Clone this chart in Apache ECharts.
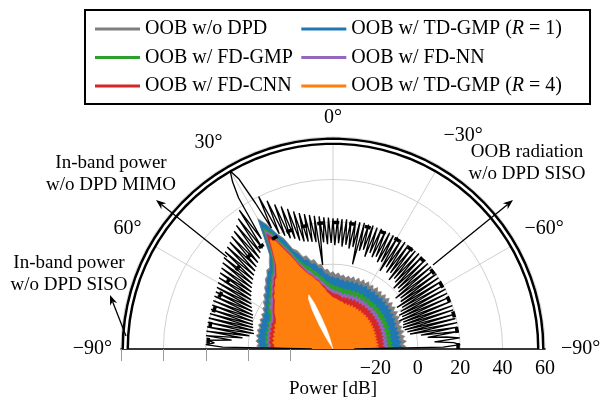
<!DOCTYPE html>
<html><head><meta charset="utf-8">
<script src="https://cdn.jsdelivr.net/npm/echarts@6/dist/echarts.min.js"></script>
<style>html,body{margin:0;padding:0;background:#fff}#c{width:606px;height:401px}</style>
</head><body><div id="c"></div>
<script>
// ---------- angles (degrees, 0 = broadside/top, positive to the left) ----------
const angleDeg = [-90,-89,-88,-87,-86,-85,-84,-83,-82,-81,-80,-79,-78,-77,-76,-75,-74,-73,-72,-71,
-70,-69,-68,-67,-66,-65,-64,-63,-62,-61,-60,-59,-58,-57,-56,-55,-54,-53,-52,-51,
-50,-49,-48,-47,-46,-45,-44,-43,-42,-41,-40,-39,-38,-37,-36,-35,-34,-33,-32,-31,
-30,-29,-28,-27,-26,-25,-24,-23,-22,-21,-20,-19,-18,-17,-16,-15,-14,-13,-12,-11,
-10,-9,-8,-7,-6,-5,-4,-3,-2,-1,0,1,2,3,4,5,6,7,8,9,
10,11,12,13,14,15,16,17,18,19,20,21,22,23,24,25,26,27,28,29,
30,31,32,33,34,35,36,37,38,39,40,41,42,43,44,45,46,47,48,49,
50,51,52,53,54,55,56,57,58,59,60,61,62,63,64,65,66,67,68,69,
70,71,72,73,74,75,76,77,78,79,80,81,82,83,84,85,86,87,88,89,90];
const angleStep2 = angleDeg.filter(a => a % 2 === 0);
const angleStep4 = angleDeg.filter(a => (a + 90) % 4 === 0);

// radial axis ticks (dB)
const radiusTicks = [-40, -20, 0, 20, 40, 60];
const radiusTickMarks = [-20, 0, 20, 40, 60];
const angleTicks = [-90, -60, -30, 0, 30, 60, 90];

// ---------- series values (dB) ----------
// OOB envelopes, sampled every 2 degrees from -90 to 90
const oobNoDpd = [-9,-5.5,-7.2,-5.2,-7.0,-5.6,-7.4,-5.4,-7.1,-5.8,-7.3,-5.3,-6.9,-5.1,-6.8,-4.9,-6.6,-4.6,-6.2,-4.5,
-6.4,-4.3,-6.1,-4.4,-6.3,-4.6,-6.0,-4.2,-6.2,-4.5,-5.9,-4.1,-5.8,-4.3,-6.0,-4.4,-6.1,-4.6,-5.9,-4.8,
-6.0,-4.7,-5.5,-4.0,-5.0,
-3.5,-4.2,-2.2,-2.6,0.4,0.2,3.2,2.8,5.8,5.6,9.4,11.0,17.2,20.5,26.5,31.0,20.5,13.5,11.2,8.6,
8.6,6.4,6.0,3.9,3.5,1.4,1.6,-0.4,-0.3,-2.0,-1.7,-3.4,-2.5,-3.9,-2.8,-4.1,-3.0,-4.3,-3.1,-4.4,
-3.2,-4.5,-3.4,-4.8,-4.0,-9];
const oobTdGmp1 = [-10,-7.5,-9.0,-7.6,-9.2,-8.0,-9.4,-7.8,-9.3,-8.1,-9.5,-7.9,-9.0,-7.5,-8.9,-7.2,-8.7,-6.9,-8.4,-6.8,
-8.5,-6.7,-8.2,-6.6,-8.3,-6.8,-8.1,-6.5,-8.2,-6.7,-8.0,-6.4,-7.9,-6.6,-8.1,-6.7,-8.2,-6.9,-8.0,-7.0,
-8.1,-6.9,-7.6,-6.2,-7.0,
-5.8,-6.2,-4.6,-4.5,-1.8,-1.6,1.2,1.0,3.8,3.9,7.6,9.6,15.8,19.6,25.5,30.2,19.8,12.6,10.2,7.8,
7.6,5.6,5.0,3.0,2.6,0.5,0.7,-1.3,-1.2,-2.9,-2.6,-4.2,-3.4,-4.7,-3.7,-5.0,-3.9,-5.2,-4.0,-5.3,
-4.1,-5.4,-4.3,-5.6,-5.0,-10];
const oobFdGmp = [-14,-11.5,-13.0,-11.8,-13.2,-12.0,-13.1,-11.7,-12.9,-11.6,-12.8,-11.4,-12.6,-11.3,-12.5,-11.1,-12.3,-11.0,-12.2,-10.9,
-12.1,-10.8,-12.0,-10.7,-11.9,-10.8,-11.8,-10.6,-11.9,-10.7,-11.8,-10.6,-11.7,-10.5,-11.8,-10.6,-11.9,-10.7,-11.8,-10.8,
-11.9,-10.8,-11.2,-10.2,-10.6,
-9.8,-9.6,-8.4,-7.8,-5.8,-5.0,-2.6,-2.0,0.4,1.2,3.8,6.6,11.8,16.2,22.0,26.0,16.5,10.8,8.2,6.0,
5.4,3.5,2.8,0.9,0.4,-1.4,-1.3,-3.1,-3.0,-4.6,-4.4,-6.4,-6.0,-7.2,-6.6,-7.8,-7.0,-8.1,-7.2,-8.3,
-7.4,-8.5,-7.6,-8.8,-8.5,-13];
const oobFdNn = [-16,-13.8,-15.0,-13.9,-15.1,-14.0,-15.0,-13.8,-14.9,-13.7,-14.8,-13.6,-14.7,-13.5,-14.6,-13.4,-14.5,-13.3,-14.4,-13.2,
-14.3,-13.1,-14.2,-13.0,-14.1,-13.1,-14.0,-12.9,-14.1,-13.0,-14.0,-12.9,-13.9,-12.8,-14.0,-12.9,-14.1,-13.0,-14.0,-13.1,
-14.1,-13.0,-13.4,-12.4,-12.8,
-12.0,-11.8,-10.6,-10.0,-8.2,-7.4,-5.0,-4.4,-2.0,-1.0,1.6,4.6,10.0,14.6,20.5,24.5,15.2,9.8,7.2,5.0,
4.4,2.5,1.8,-0.1,-0.6,-2.4,-2.3,-4.1,-4.0,-5.6,-5.4,-7.4,-7.0,-8.2,-7.6,-8.8,-8.0,-9.1,-8.2,-9.3,
-8.4,-9.5,-8.6,-9.8,-9.5,-15];
const oobFdCnn = [-18,-15.6,-16.8,-15.7,-16.9,-15.8,-16.8,-15.6,-16.7,-15.5,-16.6,-15.4,-16.5,-15.3,-16.4,-15.2,-16.3,-15.1,-16.2,-15.0,
-16.1,-14.9,-16.0,-14.8,-15.9,-14.9,-15.8,-14.7,-15.9,-14.8,-15.8,-14.7,-15.7,-14.6,-15.8,-14.7,-15.9,-14.8,-15.8,-14.9,
-15.9,-14.8,-15.2,-14.2,-14.6,
-13.8,-13.6,-12.4,-11.8,-10.0,-9.2,-6.8,-6.2,-3.8,-2.8,-0.2,2.8,8.2,12.8,19.0,22.5,14.0,8.8,6.2,4.0,
3.4,1.5,0.8,-1.1,-1.6,-3.4,-3.3,-5.1,-5.0,-6.6,-6.4,-8.4,-8.0,-9.2,-8.6,-9.8,-9.0,-10.1,-9.2,-10.3,
-9.4,-10.5,-9.6,-10.8,-10.5,-17];
const oobTdGmp4 = [-20,-18.2,-19.6,-18.4,-19.8,-18.6,-19.9,-18.7,-19.8,-18.5,-19.7,-18.4,-19.6,-18.3,-19.5,-18.2,-19.3,-18.0,-19.1,-17.9,
-19.0,-17.8,-18.9,-17.7,-18.8,-17.8,-18.7,-17.6,-18.8,-17.7,-18.7,-17.6,-18.6,-17.5,-18.6,-17.6,-18.6,-17.6,-18.4,-17.5,
-18.2,-17.2,-17.4,-16.4,-16.6,
-15.8,-15.4,-14.0,-13.2,-11.2,-10.0,-7.6,-6.6,-4.4,-3.2,-1.0,1.8,7.0,11.5,17.5,19.5,12.8,7.8,5.2,3.0,
2.4,0.5,-0.2,-2.1,-2.6,-4.4,-4.3,-6.1,-6.0,-7.6,-7.5,-9.6,-9.2,-10.6,-10.0,-11.4,-10.6,-11.8,-10.9,-12.0,
-11.0,-12.2,-11.2,-12.5,-12.2,-19];
// inner null envelope of the TD-GMP (R=4) pattern near the beam (white gap)
const gapAngles = [14,16,18,20,22,24,26,28,30,32,34];
const gapValues = [-40,-34,-30,-24,-17,-12,-13.5,-19,-27,-34,-40];

// In-band power w/o DPD MIMO, every 1 degree from -90 to 90
const inbandMimo = [-30,12,20,17,8,20,14,5,20,2,19.5,-3,19.8,-4,19.5,-5,19.8,-5.5,19.6,-5,
19.9,-4.5,19.7,-6,20,-4,19.8,-5,20.1,-3.5,19.9,-2,20.2,-4,20,-1,20.3,0,20.1,-2,
20.4,1,20.2,2,20.5,0.5,20.3,3,20.6,4,20.4,2,20.7,5,20.5,4,20.8,6,20.6,3,
20.9,7,20.7,6,21,8,20.8,7,21.1,8.5,20.9,6,21.2,9,21,8,21.3,1,21.1,9,
21.4,8,21.2,9.5,21.5,8.5,21.4,10,21.7,9,21.6,10,22,9.5,22.3,10.5,22.9,0,23.4,11,
24.2,11.5,25,12,26,12.5,27.5,13.5,29.5,15,31.5,16,33.5,18,36.5,20,40,24,38,52,
57,52,44,22,39,18,36,17,34,15,32.5,14,31.5,13,30,12,29.3,11,28.5,10,
27.2,9,26,8,25,7,24.2,6,23.4,5,22.6,4,22,3,21.5,2,21.2,1,20.9,0.5,
20.6,0,20.5,-0.5,20.4,-1,20.4,-1.5,20.4,-2,20.3,0,20.3,3,20.2,8,19.5,16,20,12,-30];

// SISO references, every 4 degrees from -90 to 90
const inbandSiso = [58,58,58,58,58,58,58,58,58,58,58,58,58,58,58,58,58,58,58,58,58,58,58,
58,58,58,58,58,58,58,58,58,58,58,58,58,58,58,58,58,58,58,58,58,58,58];
const oobSiso = [19.0,19.1,19.1,19.2,19.2,19.3,19.3,19.4,19.4,19.5,19.5,19.6,19.6,19.7,19.7,19.8,19.8,19.8,19.8,19.8,19.8,19.7,19.7,
19.6,19.6,19.5,19.5,19.4,19.4,19.3,19.3,19.2,19.2,19.1,19.1,19.0,19.0,19.0,19.0,19.0,19.0,19.0,19.0,19.0,19.0,19.0];

// ---------- chart ----------
const FONT = '"Liberation Serif","Times New Roman",serif';
const MINUS = '\u2212';
const names = {
  gray: 'OOB w/o DPD', green: 'OOB w/ FD-GMP', red: 'OOB w/ FD-CNN',
  blue: 'OOB w/ TD-GMP (R = 1)', purple: 'OOB w/ FD-NN', orange: 'OOB w/ TD-GMP (R = 4)'
};
const colors = { gray:'#7f7f7f', green:'#2ca02c', red:'#d62728', blue:'#1f77b4', purple:'#9467bd', orange:'#ff7f0e' };

function zip(vals, angs) { return vals.map((v, i) => [v, angs[i]]); }
function fill(name, vals, color, z) {
  return { name, type:'line', coordinateSystem:'polar', polarIndex:0, data: zip(vals, angleStep2),
    symbol:'none', silent:true, z,
    lineStyle:{ color, width:0.7 }, itemStyle:{ color },
    areaStyle:{ color, opacity:1, origin:'start' } };
}
function arrow(x1, y1, x2, y2) {
  const dx = x2 - x1, dy = y2 - y1, L = Math.hypot(dx, dy), ux = dx / L, uy = dy / L;
  const hl = 10, hw = 3.8, bx = x2 - ux * hl, by = y2 - uy * hl;
  return [
    { type:'line', z:100, shape:{ x1, y1, x2: bx + ux * 3, y2: by + uy * 3 }, style:{ stroke:'#000', lineWidth:1.3 } },
    { type:'polygon', z:100, shape:{ points:[[x2, y2], [bx - uy * hw, by + ux * hw], [bx + ux * 3, by + uy * 3], [bx + uy * hw, by - ux * hw]] }, style:{ fill:'#000' } }
  ];
}
function note(x, y, text) {
  return { type:'text', z:100, x, y, style:{ text, font:'19px ' + FONT, fill:'#000', align:'center', verticalAlign:'middle', lineHeight:22 } };
}
function angleLabel(v) {
  const t = (v === 90 || v === -90 ? MINUS + '90' : (v < 0 ? MINUS + (-v) : '' + v)) + '\u00B0';
  if (v === -30) return '{m30|' + t + '}';
  if (v === 30) return '{p30|' + t + '}';
  if (v === -90) return '{m90|' + t + '}';
  return t;
}
const lblRich = {
  m30:{ fontFamily:FONT, fontSize:20, color:'#000', padding:[0, 0, 12, 0] },
  p30:{ fontFamily:FONT, fontSize:20, color:'#000', padding:[0, 0, 5, 0] },
  m90:{ fontFamily:FONT, fontSize:20, color:'#000', padding:[0, 0, 0, 7] }
};

const chart = echarts.init(document.getElementById('c'), null, { renderer:'canvas' });
chart.setOption({
  animation:false,
  backgroundColor:'#fff',
  polar:[ { center:[333, 349], radius:212 }, { center:[333, 349], radius:212 } ],
  angleAxis:[
    { polarIndex:0, type:'value', min:angleTicks[0], max:angleTicks[angleTicks.length - 1], interval:30,
      startAngle:0, endAngle:180, clockwise:false,
      axisLine:{ show:false }, axisTick:{ show:false },
      axisLabel:{ margin:9, fontFamily:FONT, fontSize:20, color:'#000', formatter: angleLabel, rich: lblRich },
      splitLine:{ show:true, lineStyle:{ color:'#c4c4c4', width:0.8 } } },
    { polarIndex:1, type:'value', min:-90, max:90, startAngle:180, endAngle:360, clockwise:false, show:false,
      axisLine:{show:false}, axisLabel:{show:false}, splitLine:{show:false}, axisTick:{show:false} }
  ],
  radiusAxis:[
    { polarIndex:0, type:'value', min:radiusTicks[0], max:radiusTicks[radiusTicks.length - 1], interval:20,
      axisLine:{ show:true, lineStyle:{ color:'#000', width:1.6 } }, axisTick:{ show:false },
      axisLabel:{ margin:-30, fontFamily:FONT, fontSize:20, color:'#000',
        formatter: v => v === -40 ? '' : (v < 0 ? MINUS + (-v) : '' + v) },
      splitLine:{ show:true, lineStyle:{ color:'#c4c4c4', width:0.8 } } },
    { polarIndex:1, type:'value', min:radiusTicks[0], max:radiusTicks[radiusTicks.length - 1], interval:20,
      axisLine:{ show:true, lineStyle:{ color:'#000', width:1.6 } },
      axisTick:{ show:true, length:12, customValues: radiusTickMarks, lineStyle:{ color:'#9a9a9a', width:1 } },
      axisLabel:{ show:false }, splitLine:{ show:false } }
  ],
  legend:{
    orient:'vertical', left:85, top:10, height:96,
    padding:[9, 28, 8, 10], itemGap:8.5, itemWidth:45, itemHeight:3, icon:'rect',
    borderColor:'#000', borderWidth:2,
    data:[names.gray, names.green, names.red, names.blue, names.purple, names.orange],
    formatter: n => n.replace('(R', '({i|R}'),
    textStyle:{ fontFamily:FONT, fontSize:20, color:'#000', lineHeight:20,
      rich:{ i:{ fontFamily:FONT, fontSize:20, fontStyle:'italic', color:'#000', lineHeight:20 } } }
  },
  series:[
    fill(names.gray, oobNoDpd, colors.gray, 2),
    fill(names.blue, oobTdGmp1, colors.blue, 2),
    fill(names.green, oobFdGmp, colors.green, 2),
    fill(names.purple, oobFdNn, colors.purple, 2),
    fill(names.red, oobFdCnn, colors.red, 2),
    fill(names.orange, oobTdGmp4, colors.orange, 2),
    { name:'gap', type:'line', coordinateSystem:'polar', polarIndex:0, data: zip(gapValues, gapAngles),
      symbol:'none', silent:true, z:2, lineStyle:{ color:'#fff', width:0.5 }, areaStyle:{ color:'#fff', opacity:1, origin:'start' } },
    { name:'In-band MIMO', type:'line', coordinateSystem:'polar', polarIndex:0, data: zip(inbandMimo, angleDeg),
      symbol:'none', silent:true, z:3, lineStyle:{ color:'#000', width:1.35 } },
    { name:'OOB SISO', type:'line', coordinateSystem:'polar', polarIndex:0, data: zip(oobSiso, angleStep4),
      symbol:'none', silent:true, z:4, lineStyle:{ color:'#000', width:3.5, type:[6, 10] } },
    { name:'In-band SISO', type:'line', coordinateSystem:'polar', polarIndex:0, data: zip(inbandSiso, angleStep4),
      symbol:'none', silent:true, z:4, lineStyle:{ color:'#000', width:7.5 } },
    { name:'In-band SISO inner', type:'line', coordinateSystem:'polar', polarIndex:0, data: zip(inbandSiso, angleStep4),
      symbol:'none', silent:true, z:5, lineStyle:{ color:'#fff', width:2.6 } }
  ],
  graphic:[
    note(111, 174, 'In-band power\nw/o DPD MIMO'),
    note(69, 274, 'In-band power\nw/o DPD SISO'),
    note(527, 163, 'OOB radiation\nw/o DPD SISO'),
    note(333, 389, 'Power [dB]'),
    ...arrow(227, 257, 156, 200),
    ...arrow(126, 336, 110, 295),
    ...arrow(433, 265, 513, 200)
  ]
});
</script>
</body></html>
